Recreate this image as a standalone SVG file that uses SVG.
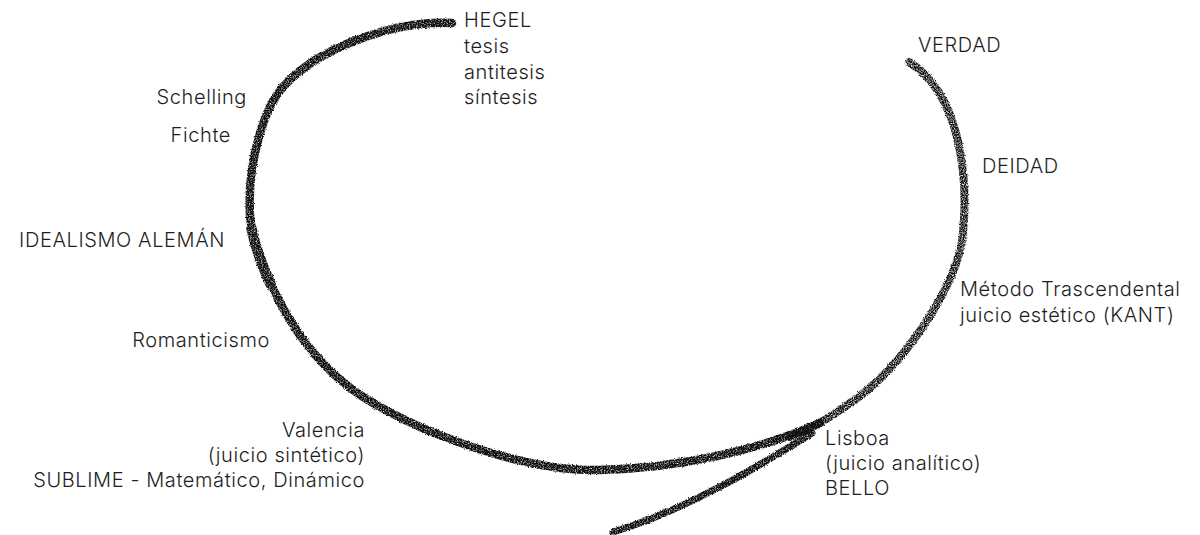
<svg xmlns="http://www.w3.org/2000/svg" width="1200" height="535" viewBox="0 0 1200 535">
  <defs>
    <style>
      .lbl { font-family: "Inter", "Liberation Sans", "DejaVu Sans", sans-serif; font-weight: 300; font-size: 20px; letter-spacing: 0.6px; fill: #1e1e1e; }
      .end { text-anchor: end; }
      .stroke { fill: none; stroke: #111111; stroke-linecap: round; stroke-linejoin: round; }
    </style>
    <filter id="pencil" x="-5%" y="-5%" width="110%" height="110%">
      <feTurbulence type="fractalNoise" baseFrequency="0.85" numOctaves="2" seed="7" result="noise"/>
      <feDisplacementMap in="SourceGraphic" in2="noise" scale="3" xChannelSelector="R" yChannelSelector="G" result="disp"/>
      <feColorMatrix in="noise" type="matrix" values="0 0 0 0 0  0 0 0 0 0  0 0 0 0 0  0 0 0 -2.2 2.0" result="mask"/>
      <feComposite in="disp" in2="mask" operator="in" result="tex"/>
      <feGaussianBlur in="tex" stdDeviation="0.55"/>
    </filter>
    <filter id="pencilLight" x="-5%" y="-5%" width="110%" height="110%">
      <feTurbulence type="fractalNoise" baseFrequency="0.9" numOctaves="2" seed="11" result="noise"/>
      <feDisplacementMap in="SourceGraphic" in2="noise" scale="3" xChannelSelector="R" yChannelSelector="G" result="disp"/>
      <feColorMatrix in="noise" type="matrix" values="0 0 0 0 0  0 0 0 0 0  0 0 0 0 0  0 0 0 -2.3 1.9" result="mask"/>
      <feComposite in="disp" in2="mask" operator="in" result="tex"/>
      <feGaussianBlur in="tex" stdDeviation="0.5"/>
    </filter>
  </defs>
  <rect width="1200" height="535" fill="#ffffff"/>

  <g id="spiral">
    <g filter="url(#pencil)">
      <path class="stroke" stroke-width="8.5" d="M 452 23 C 400 20 320 45 283 87 C 265 107 247 160 250 215 C 252 250 285 335 344 383 C 385 418 510 472 600 470 C 680 468 760 450 820 423"/>
      <path class="stroke" stroke-width="10.5" d="M 251.5 229 C 254.4 242.4 260.7 262.7 270.8 284.5"/>
      <path class="stroke" stroke-width="7" d="M 613 532 C 680 512 750 472 812 433"/>
    </g>
    <g filter="url(#pencilLight)">
      <path class="stroke" stroke-width="8" stroke="#161616" d="M 790 437 C 808 430 830 418 850 403 C 895 375 958 290 963 233 C 968 180 962 95 909 62"/>
    </g>
  </g>

  <g id="hegel">
    <text class="lbl" x="464" y="27">HEGEL</text>
    <text class="lbl" x="464" y="53">tesis</text>
    <text class="lbl" x="464" y="79">antitesis</text>
    <text class="lbl" x="464" y="104">síntesis</text>
  </g>
  <g id="schelling"><text class="lbl end" x="247" y="104">Schelling</text></g>
  <g id="fichte"><text class="lbl end" x="231" y="142">Fichte</text></g>
  <g id="idealismo"><text class="lbl end" x="225" y="247">IDEALISMO ALEMÁN</text></g>
  <g id="romanticismo"><text class="lbl end" x="270" y="347">Romanticismo</text></g>
  <g id="valencia">
    <text class="lbl end" x="365" y="437">Valencia</text>
    <text class="lbl end" x="365" y="462">(juicio sintético)</text>
    <text class="lbl end" x="365" y="487">SUBLIME - Matemático, Dinámico</text>
  </g>
  <g id="verdad"><text class="lbl" x="918" y="52">VERDAD</text></g>
  <g id="deidad"><text class="lbl" x="982" y="173">DEIDAD</text></g>
  <g id="kant">
    <text class="lbl" x="960" y="296">Método Trascendental</text>
    <text class="lbl" x="960" y="322">juicio estético (KANT)</text>
  </g>
  <g id="lisboa">
    <text class="lbl" x="825" y="445">Lisboa</text>
    <text class="lbl" x="825" y="470">(juicio analítico)</text>
    <text class="lbl" x="825" y="495">BELLO</text>
  </g>
</svg>
